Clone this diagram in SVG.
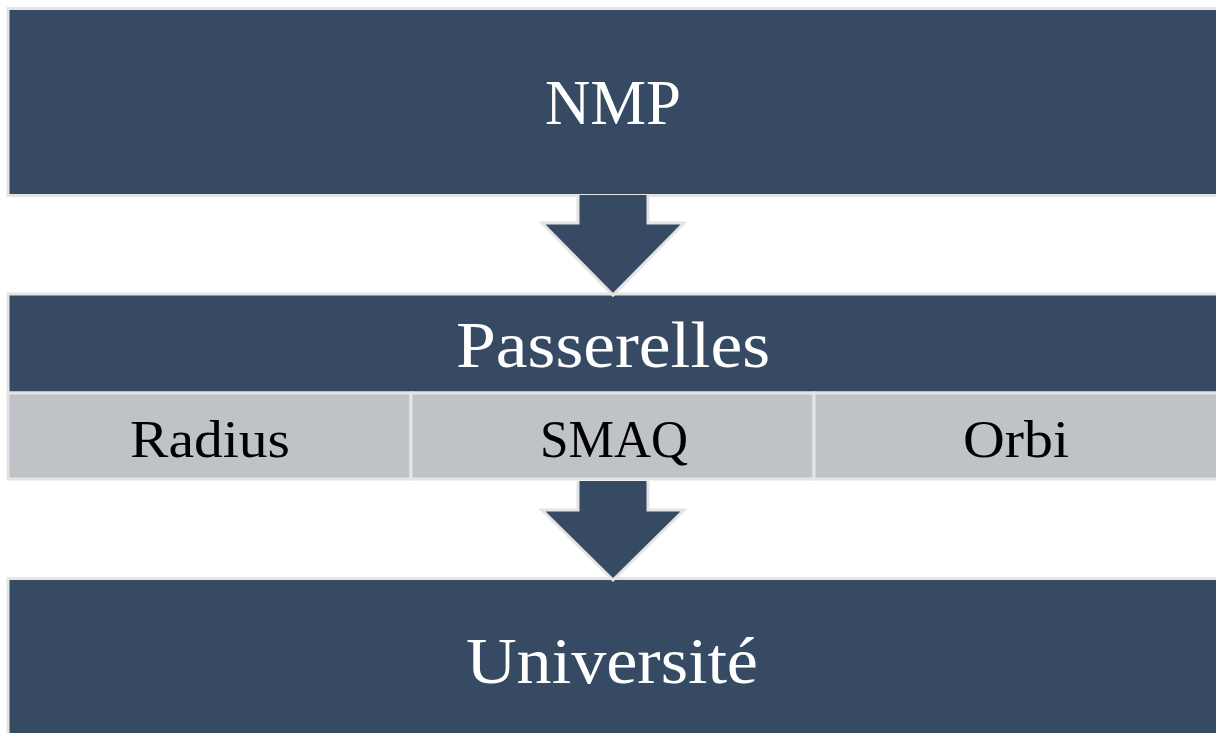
<svg xmlns="http://www.w3.org/2000/svg" width="1216" height="733" viewBox="0 0 1216 733">
  <style>
    .band { fill: #374a63; stroke: #e4e4e4; stroke-width: 3; }
    .cell { fill: #bfc2c7; stroke: #e4e4e4; stroke-width: 3; }
    .arrow { fill: #374a63; stroke: #e4e4e4; stroke-width: 3; stroke-linejoin: miter; }
    .title { font-family: "Liberation Serif", "DejaVu Serif", serif; fill: #ffffff; text-anchor: middle; }
    .label { font-family: "Liberation Serif", "DejaVu Serif", serif; fill: #000000; text-anchor: middle; }
  </style>

  <g id="nmp">
    <rect class="band" x="8" y="8.5" width="1212" height="187"/>
    <text class="title" x="613" y="124" font-size="64" textLength="136" lengthAdjust="spacingAndGlyphs">NMP</text>
  </g>

  <g id="passerelles">
    <rect class="band" x="8" y="294" width="1212" height="99"/>
    <text class="title" x="613" y="367" font-size="66" textLength="314" lengthAdjust="spacingAndGlyphs">Passerelles</text>
  </g>

  <g id="radius">
    <rect class="cell" x="8" y="393" width="403" height="86"/>
    <text class="label" x="210" y="457" font-size="52" textLength="160" lengthAdjust="spacingAndGlyphs">Radius</text>
  </g>

  <g id="smaq">
    <rect class="cell" x="411" y="393" width="403" height="86"/>
    <text class="label" x="614" y="457" font-size="52" textLength="148" lengthAdjust="spacingAndGlyphs">SMAQ</text>
  </g>

  <g id="orbi">
    <rect class="cell" x="814" y="393" width="406" height="86"/>
    <text class="label" x="1016" y="457" font-size="52" textLength="106" lengthAdjust="spacingAndGlyphs">Orbi</text>
  </g>

  <g id="universite">
    <rect class="band" x="8" y="578.5" width="1212" height="160"/>
    <text class="title" x="612" y="683" font-size="66" textLength="292" lengthAdjust="spacingAndGlyphs">Université</text>
  </g>

  <!-- flow arrows between the bands; open paths so the stem top is not outlined -->
  <g id="connectors">
    <path class="arrow" d="M578,195 V223 H542 L613,295 L684,223 H648 V195"/>
    <path class="arrow" d="M578,481 V510 H542 L613,580 L684,510 H648 V481"/>
  </g>
</svg>
